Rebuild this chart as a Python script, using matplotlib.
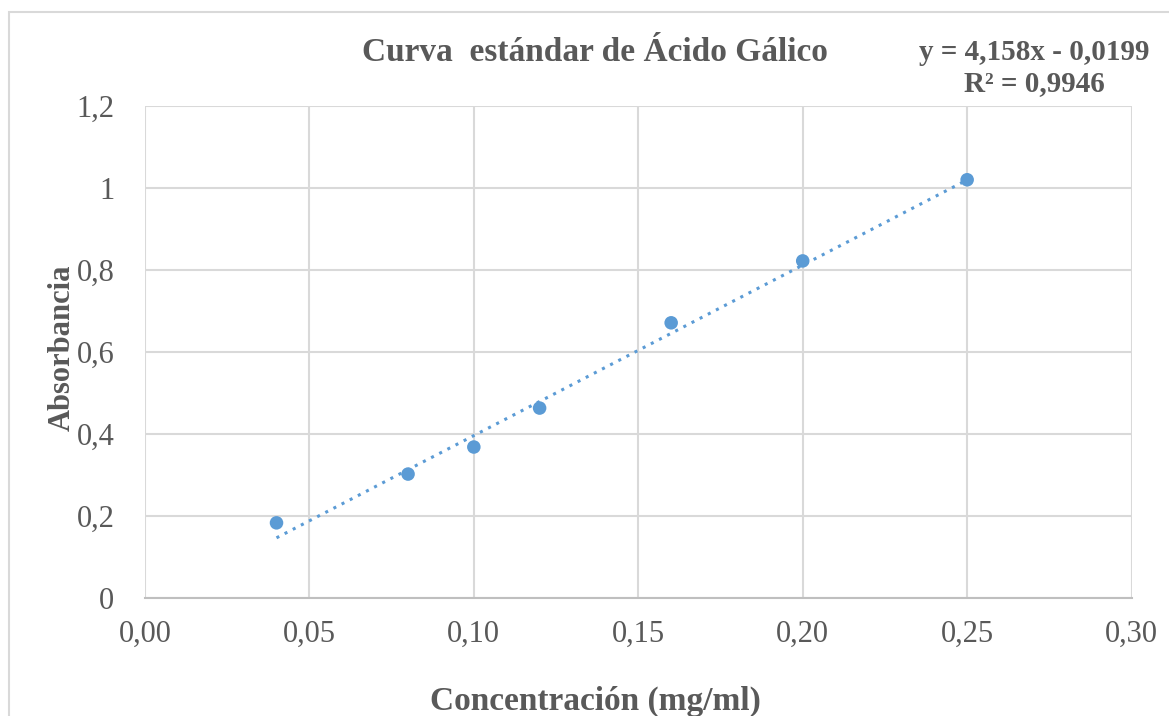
import matplotlib
matplotlib.use('Agg')
from matplotlib import pyplot
from matplotlib.ticker import FuncFormatter, MultipleLocator
from matplotlib.patches import Rectangle
import numpy

# Curva estándar de Ácido Gálico
concentracion = [0.04, 0.08, 0.10, 0.12, 0.16, 0.20, 0.25]
absorbancia = [0.183, 0.302, 0.368, 0.463, 0.671, 0.822, 1.020]
pendiente = 4.158
intercepto = -0.0199
r2 = 0.9946

pyplot.rcParams['font.family'] = ['Liberation Serif', 'DejaVu Serif']
gris = '#595959'
azul = '#5b9bd5'

fig = pyplot.figure(figsize=(11.69, 7.16), dpi=100)
ax = fig.add_axes([0.124, 0.165, 0.844, 0.687])

# linea de tendencia
x_lin = numpy.array([min(concentracion), max(concentracion)])
ax.plot(x_lin, pendiente * x_lin + intercepto, linestyle=(0, (1, 2)),
        color=azul, linewidth=2.2, zorder=3)
ax.scatter(concentracion, absorbancia, s=95, color=azul, zorder=4,
           edgecolors='none')

ax.set_xlim(0, 0.30)
ax.set_ylim(0, 1.2)
ax.xaxis.set_major_locator(MultipleLocator(0.05))
ax.yaxis.set_major_locator(MultipleLocator(0.2))
ax.xaxis.set_major_formatter(FuncFormatter(lambda v, p: f'{v:.2f}'.replace('.', ',')))
ax.yaxis.set_major_formatter(FuncFormatter(lambda v, p: f'{v:g}'.replace('.', ',')))
ax.grid(True, color='#d9d9d9', linewidth=1.5)
ax.set_axisbelow(True)
for lado in ['top', 'right', 'left']:
    ax.spines[lado].set_visible(False)
ax.spines['bottom'].set_color('#bfbfbf')
ax.spines['bottom'].set_linewidth(1.5)
ax.tick_params(length=0, labelsize=22, labelcolor=gris, pad=22)
ax.tick_params(axis='x', pad=16)

fig.text(0.053, 0.515, 'Absorbancia', fontsize=22, fontweight='bold', color=gris,
         rotation=90, ha='center', va='center')
fig.text(0.509, 0.02, 'Concentración (mg/ml)', fontsize=24, fontweight='bold',
         color=gris, ha='center', va='center')

fig.text(0.509, 0.927, 'Curva  estándar de Ácido Gálico', fontsize=24,
         fontweight='bold', color=gris, ha='center', va='center')
fig.text(0.885, 0.905, f'y = {pendiente:.3f}x - {abs(intercepto):.4f}\nR² = {r2:.4f}'.replace('.', ','),
         fontsize=21, fontweight='bold', color=gris, ha='center', va='center',
         multialignment='center', linespacing=1.2)

# borde del área del gráfico
fig.patches.append(Rectangle((9 / 1169, -0.1), 1.2, 1 - 12 / 716 + 0.1,
                             transform=fig.transFigure, fill=False,
                             edgecolor='#d9d9d9', linewidth=1.5))

fig.savefig('out.png', dpi=100)
